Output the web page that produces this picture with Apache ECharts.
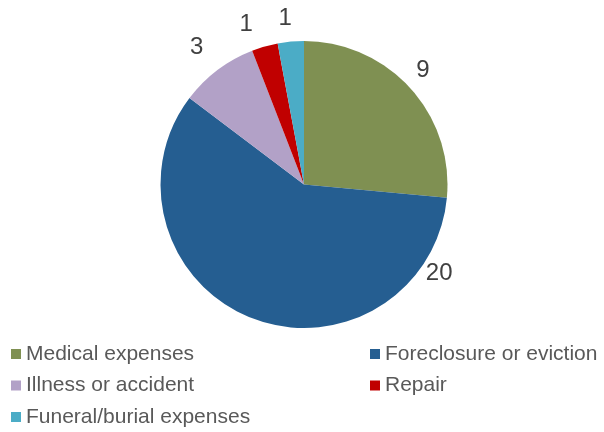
<!DOCTYPE html>
<html>
<head>
<meta charset="utf-8">
<script src="https://cdn.jsdelivr.net/npm/echarts@6/dist/echarts.min.js"></script>
<style>
  html, body { margin: 0; padding: 0; background: #ffffff; }
  #chart { width: 604px; height: 432px; }
</style>
</head>
<body>
<div id="chart"></div>
<script>
// Causes of the hardship, counted by household
const categories = ['Medical expenses', 'Foreclosure or eviction', 'Illness or accident', 'Repair', 'Funeral/burial expenses'];
const counts = [9, 20, 3, 1, 1];
const sliceColors = ['#7F9052', '#255E91', '#B2A1C7', '#C00000', '#4BACC6'];

// Pie geometry (pixels)
const CX = 304, CY = 184.5, R = 143.5;
const LABEL_R = 167;
// Angular nudges (degrees) applied to individual labels: the large slice's
// label sits on its right-hand side, and the small labels are spread apart.
const labelAngleShift = [-1.5, -77.7, -1, -4, -1.2];
const labelRadiusShift = [-2, -5, 7, 3, 0];

const total = counts.reduce((a, b) => a + b, 0);
const midAngles = [];
let acc = 0;
counts.forEach(v => { midAngles.push((acc + v / 2) / total * 360); acc += v; });

const chart = echarts.init(document.getElementById('chart'), null, { renderer: 'canvas' });

const legendText = { color: '#595959', fontSize: 21, fontFamily: 'Liberation Sans, Arial, sans-serif', lineHeight: 24 };

function legendColumn(left, names) {
  return {
    orient: 'vertical', left: left, top: 342, height: 100, padding: 0,
    icon: 'rect', itemWidth: 10, itemHeight: 10, itemGap: 7.5,
    selectedMode: false,
    data: names,
    textStyle: legendText
  };
}

chart.setOption({
  animation: false,
  color: sliceColors,
  legend: [
    legendColumn(11, [categories[0], categories[2], categories[4]]),
    legendColumn(370, [categories[1], categories[3]])
  ],
  series: [{
    type: 'pie',
    center: [CX, CY],
    radius: [0, R],
    startAngle: 90,
    clockwise: true,
    avoidLabelOverlap: false,
    itemStyle: { borderWidth: 0 },
    label: {
      show: true,
      position: 'outside',
      formatter: '{c}',
      color: '#404040',
      fontSize: 24,
      fontFamily: 'Liberation Sans, Arial, sans-serif'
    },
    labelLine: { show: false },
    labelLayout: function (params) {
      const i = params.dataIndex;
      const a = (midAngles[i] + labelAngleShift[i]) * Math.PI / 180;
      const rr = LABEL_R + labelRadiusShift[i];
      return {
        x: CX + rr * Math.sin(a),
        y: CY - rr * Math.cos(a),
        align: 'center',
        verticalAlign: 'middle'
      };
    },
    emphasis: { disabled: true },
    data: categories.map((name, i) => ({ name: name, value: counts[i] }))
  }]
});
</script>
</body>
</html>
